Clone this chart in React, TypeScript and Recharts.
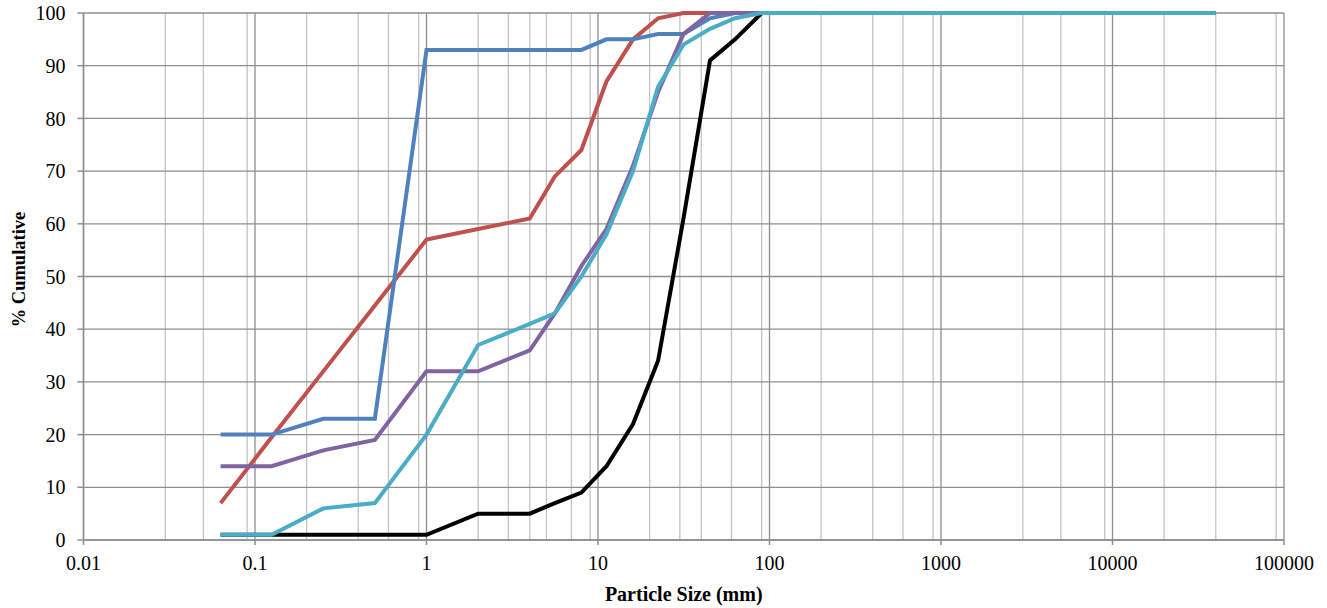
import { CartesianGrid, Line, LineChart, XAxis, YAxis } from "recharts";

// sieve sizes (mm)
const sizes = [0.063, 0.125, 0.25, 0.5, 1, 2, 4, 5.6, 8, 11.2, 16, 22.4, 31.5, 45, 63, 90, 40000];

// % cumulative passing per sample
const blackSeries = [1, 1, 1, 1, 1, 5, 5, 7, 9, 14, 22, 34, 61, 91, 95, 100, 100];
const redSeries = [7, 19.5, 32, 44.5, 57, 59, 61, 69, 74, 87, 95, 99, 100, 100, 100, 100, 100];
const blueSeries = [20, 20, 23, 23, 93, 93, 93, 93, 93, 95, 95, 96, 96, 99, 100, 100, 100];
const purpleSeries = [14, 14, 17, 19, 32, 32, 36, 43, 52, 59, 71, 85, 96, 100, 100, 100, 100];
const cyanSeries = [1, 1, 6, 7, 20, 37, 41, 43, 50, 58, 70, 86, 94, 97, 99, 100, 100];

const xTicks = [0.01, 0.1, 1, 10, 100, 1000, 10000, 100000];
const yTicks = [0, 10, 20, 30, 40, 50, 60, 70, 80, 90, 100];

// 2..9 inside each decade, for the light grid
const minorTicks: number[] = [];
for (let d = -2; d < 5; d++) {
  for (let m = 2; m < 10; m++) minorTicks.push(Number((m * Math.pow(10, d)).toPrecision(3)));
}

const series = [
  { name: "black", color: "#000000", values: blackSeries },
  { name: "red", color: "#C0504D", values: redSeries },
  { name: "blue", color: "#4F81BD", values: blueSeries },
  { name: "purple", color: "#8064A2", values: purpleSeries },
  { name: "cyan", color: "#4BACC6", values: cyanSeries },
];

const toPoints = (values: number[]) => sizes.map((size, i) => ({ size, pct: values[i] }));

const font = "'Liberation Serif', 'Times New Roman', serif";

export default function App() {
  return (
    <div style={{ position: "absolute", left: 0, top: 0, background: "#fff" }}>
      <LineChart width={1327} height={608} margin={{ top: 13, right: 43, bottom: 0, left: 0 }}>
        <CartesianGrid verticalValues={minorTicks} horizontal={false} stroke="#c4c4c4" strokeWidth={1.3} />
        <CartesianGrid verticalValues={xTicks} horizontalValues={yTicks} stroke="#8e8e8e" strokeWidth={1.3} />
        <XAxis
          dataKey="size"
          type="number"
          scale="log"
          domain={[0.01, 100000]}
          ticks={xTicks}
          allowDataOverflow
          height={68}
          stroke="#8e8e8e"
          strokeWidth={1.5}
          tickSize={5}
          tickMargin={11}
          tick={{ fill: "#000", fontSize: 20, fontFamily: font }}
          tickFormatter={(v: number) => String(v)}
          label={{
            content: ({ viewBox }: any) => (
              <text
                x={viewBox.x + viewBox.width / 2}
                y={601}
                textAnchor="middle"
                fontFamily={font}
                fontWeight="bold"
                fontSize={20}
                fill="#000"
              >
                Particle Size (mm)
              </text>
            ),
          }}
        />
        <YAxis
          type="number"
          domain={[0, 100]}
          ticks={yTicks}
          width={83.5}
          stroke="#8e8e8e"
          strokeWidth={1.5}
          tickSize={6}
          tickMargin={12}
          tick={{ fill: "#000", fontSize: 20, fontFamily: font }}
          label={{
            content: ({ viewBox }: any) => {
              const cy = viewBox.y + viewBox.height / 2 - 7;
              return (
                <text
                  x={19}
                  y={cy}
                  transform={`rotate(-90 19 ${cy})`}
                  textAnchor="middle"
                  dominantBaseline="central"
                  fontFamily={font}
                  fontWeight="bold"
                  fontSize={18.5}
                  fill="#000"
                >
                  % Cumulative
                </text>
              );
            },
          }}
        />
        {series.map((s) => (
          <Line
            key={s.name}
            data={toPoints(s.values)}
            dataKey="pct"
            type="linear"
            stroke={s.color}
            strokeWidth={4}
            dot={false}
            activeDot={false}
            isAnimationActive={false}
          />
        ))}
      </LineChart>
    </div>
  );
}
